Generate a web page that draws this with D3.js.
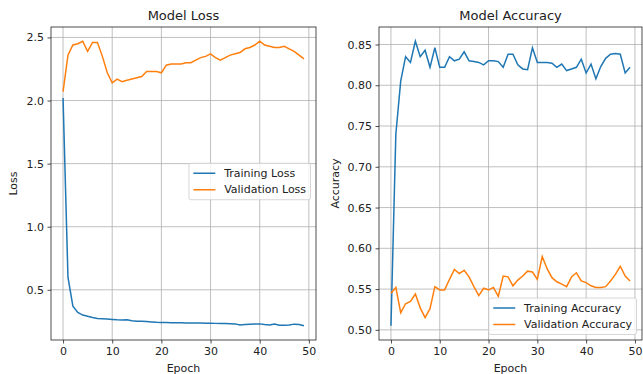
<!DOCTYPE html>
<html lang="en">
<head>
<meta charset="UTF-8" />
<title>Model Loss / Model Accuracy</title>
<script src="https://d3js.org/d3.v7.min.js"></script>
<style>
    * { margin: 0; padding: 0; box-sizing: border-box; }
    body { background: #fff; width: 643px; height: 374px; overflow: hidden; }
    text { font-family: "DejaVu Sans", sans-serif; fill: #222; }
</style>
</head>
<body>
<svg id="chart" width="643" height="374"></svg>
<script>
    // epochs 0..49
    var epochs = d3.range(50);

    var trainLoss = [2.02, 0.60, 0.37, 0.32, 0.30, 0.29, 0.28, 0.272, 0.270, 0.268,
                     0.265, 0.262, 0.260, 0.262, 0.255, 0.250, 0.250, 0.248, 0.245, 0.242,
                     0.240, 0.240, 0.238, 0.238, 0.238, 0.237, 0.237, 0.236, 0.236, 0.235,
                     0.235, 0.234, 0.233, 0.233, 0.232, 0.230, 0.222, 0.225, 0.228, 0.230,
                     0.230, 0.225, 0.222, 0.228, 0.220, 0.220, 0.222, 0.228, 0.225, 0.215];
    var valLoss = [2.07, 2.36, 2.44, 2.45, 2.47, 2.39, 2.46, 2.46, 2.35, 2.22,
                   2.14, 2.17, 2.15, 2.16, 2.17, 2.18, 2.19, 2.23, 2.23, 2.23,
                   2.22, 2.28, 2.29, 2.29, 2.29, 2.30, 2.30, 2.32, 2.34, 2.35,
                   2.37, 2.34, 2.32, 2.34, 2.36, 2.37, 2.38, 2.41, 2.42, 2.44,
                   2.47, 2.44, 2.43, 2.42, 2.42, 2.43, 2.41, 2.39, 2.36, 2.33];

    var trainAcc = [0.505, 0.740, 0.805, 0.835, 0.828, 0.854, 0.835, 0.843, 0.822, 0.846,
                    0.822, 0.822, 0.835, 0.830, 0.832, 0.841, 0.830, 0.829, 0.828, 0.825,
                    0.830, 0.830, 0.829, 0.822, 0.838, 0.838, 0.825, 0.820, 0.819, 0.846,
                    0.828, 0.828, 0.828, 0.827, 0.822, 0.826, 0.818, 0.820, 0.822, 0.832,
                    0.815, 0.826, 0.808, 0.823, 0.833, 0.838, 0.839, 0.838, 0.815, 0.822];
    var valAcc = [0.545, 0.552, 0.521, 0.532, 0.535, 0.544, 0.527, 0.515, 0.526, 0.553,
                  0.549, 0.549, 0.562, 0.574, 0.569, 0.573, 0.565, 0.553, 0.542, 0.551,
                  0.549, 0.552, 0.541, 0.566, 0.565, 0.554, 0.561, 0.566, 0.572, 0.571,
                  0.562, 0.590, 0.575, 0.564, 0.559, 0.556, 0.553, 0.565, 0.570, 0.560,
                  0.558, 0.554, 0.552, 0.552, 0.553, 0.560, 0.568, 0.578, 0.566, 0.560];

    var xTicks = [0, 10, 20, 30, 40, 50];
    var lossTicks = [0.5, 1.0, 1.5, 2.0, 2.5];
    var accTicks = [0.50, 0.55, 0.60, 0.65, 0.70, 0.75, 0.80, 0.85];

    var blue = "#1f77b4";
    var orange = "#ff7f0e";
    var fs = 11;

    var svg = d3.select("#chart");

    // pad like matplotlib (5% margins)
    function padded(ext) {
        var m = (ext[1] - ext[0]) * 0.05;
        return [ext[0] - m, ext[1] + m];
    }

    function drawPanel(p) {
        var xScale = d3.scaleLinear()
            .domain(padded(d3.extent(epochs)))
            .range([p.x0, p.x1]);
        var yScale = d3.scaleLinear()
            .domain(padded(d3.extent(p.series[0].values.concat(p.series[1].values))))
            .range([p.y1, p.y0]);

        var g = svg.append("g");

        // grid
        g.selectAll(".vgrid").data(xTicks).enter().append("line")
            .attr("x1", function(d) { return xScale(d); })
            .attr("x2", function(d) { return xScale(d); })
            .attr("y1", p.y0).attr("y2", p.y1)
            .attr("stroke", "#b0b0b0").attr("stroke-width", 0.8);
        g.selectAll(".hgrid").data(p.yTicks).enter().append("line")
            .attr("y1", function(d) { return yScale(d); })
            .attr("y2", function(d) { return yScale(d); })
            .attr("x1", p.x0).attr("x2", p.x1)
            .attr("stroke", "#b0b0b0").attr("stroke-width", 0.8);

        // lines
        var line = d3.line()
            .x(function(d, i) { return xScale(epochs[i]); })
            .y(function(d) { return yScale(d); });
        p.series.forEach(function(s) {
            g.append("path")
                .datum(s.values)
                .attr("d", line)
                .attr("fill", "none")
                .attr("stroke", s.color)
                .attr("stroke-width", 1.5);
        });

        // frame
        g.append("rect")
            .attr("x", p.x0).attr("y", p.y0)
            .attr("width", p.x1 - p.x0).attr("height", p.y1 - p.y0)
            .attr("fill", "none").attr("stroke", "#222").attr("stroke-width", 0.8);

        // axes
        var xAxis = d3.axisBottom(xScale).tickValues(xTicks).tickSize(3.5).tickPadding(3.5)
            .tickFormat(d3.format("d"));
        var gx = g.append("g")
            .attr("transform", "translate(0," + p.y1 + ")")
            .call(xAxis);
        var yAxis = d3.axisLeft(yScale).tickValues(p.yTicks).tickSize(3.5).tickPadding(3.5)
            .tickFormat(d3.format(p.yFormat));
        var gy = g.append("g")
            .attr("transform", "translate(" + p.x0 + ",0)")
            .call(yAxis);
        [gx, gy].forEach(function(a) {
            a.select(".domain").remove();
            a.selectAll(".tick line").attr("stroke", "#222").attr("stroke-width", 0.8);
            a.selectAll(".tick text")
                .attr("font-family", "DejaVu Sans").attr("font-size", fs).attr("fill", "#222");
        });

        // title and labels
        g.append("text")
            .attr("x", (p.x0 + p.x1) / 2).attr("y", p.y0 - 7)
            .attr("text-anchor", "middle").attr("font-size", 13)
            .text(p.title);
        g.append("text")
            .attr("x", (p.x0 + p.x1) / 2).attr("y", p.y1 + 32)
            .attr("text-anchor", "middle").attr("font-size", fs)
            .text("Epoch");
        g.append("text")
            .attr("transform", "rotate(-90)")
            .attr("x", -(p.y0 + p.y1) / 2).attr("y", p.ylabelX)
            .attr("text-anchor", "middle").attr("dominant-baseline", "central")
            .attr("font-size", fs)
            .text(p.ylabel);

        // legend
        var lg = g.append("g");
        var box = lg.append("rect")
            .attr("fill", "#fff").attr("fill-opacity", 0.8)
            .attr("stroke", "#ccc").attr("stroke-width", 0.8).attr("rx", 2);
        var rowH = 16.5;
        var maxW = 0;
        p.series.forEach(function(s, i) {
            var cy = 10 + i * rowH;
            lg.append("line")
                .attr("x1", 0.4 * fs).attr("x2", 2.4 * fs)
                .attr("y1", cy).attr("y2", cy)
                .attr("stroke", s.color).attr("stroke-width", 1.5);
            var t = lg.append("text")
                .attr("x", 3.2 * fs).attr("y", cy)
                .attr("dominant-baseline", "central")
                .attr("font-size", fs)
                .text(s.name);
            maxW = Math.max(maxW, t.node().getComputedTextLength());
        });
        var bw = 3.6 * fs + maxW;
        var bh = 20 + rowH;
        box.attr("width", bw).attr("height", bh);
        var lx = p.x1 - 0.5 * fs - bw;
        var ly = p.legendPos === "center" ? (p.y0 + p.y1) / 2 - bh / 2 - 2 : p.y1 - 0.5 * fs - bh;
        lg.attr("transform", "translate(" + lx + "," + ly + ")");
    }

    drawPanel({
        x0: 51, x1: 316, y0: 27, y1: 340,
        title: "Model Loss", ylabel: "Loss", ylabelX: 13,
        yTicks: lossTicks, yFormat: ".1f",
        legendPos: "center",
        series: [
            { name: "Training Loss", values: trainLoss, color: blue },
            { name: "Validation Loss", values: valLoss, color: orange }
        ]
    });

    drawPanel({
        x0: 379, x1: 642, y0: 27, y1: 340,
        title: "Model Accuracy", ylabel: "Accuracy", ylabelX: 335,
        yTicks: accTicks, yFormat: ".2f",
        legendPos: "lower",
        series: [
            { name: "Training Accuracy", values: trainAcc, color: blue },
            { name: "Validation Accuracy", values: valAcc, color: orange }
        ]
    });
</script>
</body>
</html>
